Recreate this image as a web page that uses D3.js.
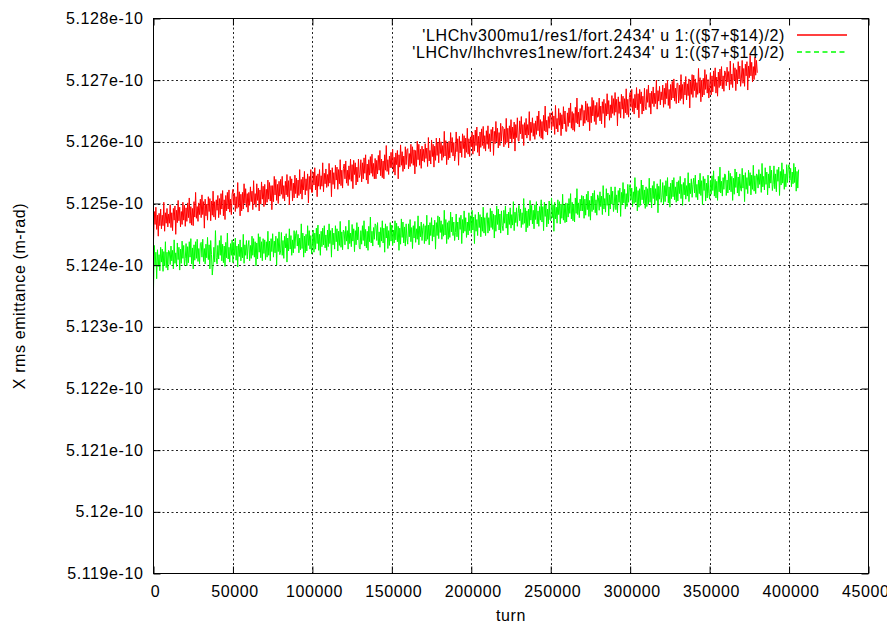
<!DOCTYPE html>
<html>
<head>
<meta charset="utf-8">
<script src="https://cdn.jsdelivr.net/npm/d3@7"></script>
<style>
  html, body { margin: 0; padding: 0; background: #fff; }
  svg { display: block; }
  text { font-family: "Liberation Sans", Arial, Helvetica, sans-serif; font-size: 16px; letter-spacing: 0.6px; fill: #000; }
</style>
</head>
<body>
<svg id="chart" width="887" height="623"></svg>
<script>
// ---- DATA ----
// X rms emittance, stored as (value - 5.12e-10) in units of 1e-15 m-rad
// (e.g. 470 -> 5.12470e-10 m-rad), sampled every 500 turns from turn 0.
const turnStep = 500;
const emitBase = 512000; // 5.12e-10 m-rad in units of 1e-15

const seriesNames = [
  "'LHChv300mu1/res1/fort.2434' u 1:(($7+$14)/2)",
  "'LHChv/lhchvres1new/fort.2434' u 1:(($7+$14)/2)"
];
const seriesColors = ["#ff0000", "#00ff00"];

const redEmit = [
440,487,466,494,458,481,447,484,464,491, 459,481,464,502,455,485,468,492,462,483,
468,498,461,485,456,492,473,496,450,489, 469,505,472,494,462,487,466,502,473,497,
463,493,471,501,477,509,468,495,465,492, 464,503,478,518,476,495,471,501,482,507,
477,514,482,503,460,507,480,499,473,511, 487,508,472,504,481,520,478,503,474,506,
489,513,477,508,482,516,491,521,480,506, 474,513,488,518,491,522,486,507,482,515,
523,498,517,487,511,492,534,494,519,480, 515,488,518,491,532,500,524,494,516,486,
518,497,527,503,520,490,537,499,516,494, 532,505,525,488,522,499,535,507,528,495,
531,498,523,502,538,507,534,504,529,490, 529,503,544,514,539,505,531,500,536,512,
539,515,544,508,529,504,536,514,547,511, 537,498,544,521,540,504,533,509,546,516,
541,509,538,513,555,516,539,507,543,522, 552,514,540,521,548,501,544,523,555,518,
518,551,530,558,522,545,511,548,528,555, 523,545,528,566,519,549,532,556,526,547,
528,565,533,554,511,558,531,550,524,562, 538,559,523,555,532,571,529,554,525,557,
564,540,569,533,554,529,561,539,572,536, 563,524,570,547,566,530,559,535,572,542,
547,571,535,566,540,574,549,579,538,564, 532,571,546,576,549,580,544,565,540,573,
540,570,548,578,554,586,545,572,542,569, 540,579,554,594,552,571,547,577,558,583,
558,588,551,575,546,582,563,586,540,579, 559,595,562,584,552,577,556,592,563,587,
589,556,581,560,596,565,592,562,587,548, 586,560,601,571,596,562,588,557,593,569,
588,567,597,573,590,560,607,569,586,564, 603,576,596,559,593,570,606,578,599,566,
606,581,600,570,594,575,617,577,602,563, 598,571,601,574,615,583,607,577,599,569,
579,616,584,605,562,609,582,601,575,613, 589,610,574,606,583,622,580,605,576,608,
592,616,580,611,585,619,594,624,583,609, 577,616,591,621,594,625,589,610,585,618,
596,626,589,613,584,620,601,624,578,617, 597,633,600,622,590,615,594,630,601,625,
624,592,621,596,638,599,622,590,626,605, 636,598,624,605,632,585,628,607,639,602,
601,634,613,641,605,628,594,631,611,638, 606,628,611,649,602,632,615,639,609,630,
604,634,612,642,618,650,609,636,606,633, 604,643,618,658,616,635,611,641,622,647,
640,619,649,625,642,612,659,621,638,616, 654,627,647,610,644,621,657,629,650,617,
617,647,625,655,631,663,622,649,619,646, 617,656,631,671,629,648,624,654,635,660,
659,626,651,630,666,635,662,632,657,618, 657,631,672,642,667,633,659,628,664,640,
641,671,634,658,629,665,646,669,623,662, 642,678,645,667,635,660,639,675,646,670,
643,680,648,669,626,673,646,665,639,677, 653,674,638,670,647,686,644,669,640,672,
680,656,685,649,670,645,677,655,688,652, 678,639,685,662,681,645,674,650,687,657,
652,685,664,692,656,679,645,682,662,689, 657,679,662,700,653,683,666,690,660,681,
668,692,656,687,661,695,670,700,659,685, 654,693,668,698,671,702,666,687,662,695,
695,663,692,667,709,670,693,661,697,676, 706,668,694,675,702,655,698,677,709,672,
708,683,702,672,696,677,719,679,704,665, 700,673,703,676,717,685,709,679,701,671,
688,712,676,707,681,715,690,720,679,705, 674,713,688,718,691,722,686,707,682,715,
712,691,721,697,714,684,731,693,710,688, 727,700,720,683,717,694,730,702,723,690,
702,732,695,719,690,726,707,730,684,723, 704,740,707,729,697,722,701,737,708,732,
712
];

const greenEmit = [
362,432,400,421,378,425,398,417,391,429, 405,426,390,422,399,438,396,421,392,424,
422,401,431,407,424,394,441,403,420,398, 436,409,429,392,426,403,439,411,432,399,
411,435,399,430,404,438,413,443,402,428, 394,433,408,438,411,442,406,427,402,435,
437,413,442,406,427,402,434,412,445,409, 433,394,440,417,384,400,429,405,456,412,
402,432,410,440,416,448,407,434,404,431, 398,437,412,452,410,429,405,435,416,441,
404,437,416,444,408,431,397,434,414,441, 407,429,412,450,403,433,416,440,410,431,
440,407,432,411,447,416,443,413,438,399, 436,410,451,421,446,412,438,407,443,419,
441,409,438,413,455,416,439,407,443,422, 451,413,439,420,447,400,443,422,454,417,
423,453,416,440,411,447,428,451,405,444, 423,459,426,448,416,441,420,456,427,451,
456,431,450,420,444,425,467,427,452,413, 447,420,450,423,464,432,456,426,448,418,
433,457,421,452,426,460,435,465,424,450, 416,455,430,460,433,464,428,449,424,457,
430,467,435,456,413,460,433,452,426,464, 438,459,423,455,432,471,429,454,425,457,
454,433,463,439,456,426,473,435,452,430, 466,439,459,422,456,433,469,441,462,429,
426,456,434,464,440,472,431,458,428,455, 424,463,438,478,436,455,431,461,442,467,
464,440,469,433,454,429,461,439,472,436, 460,421,467,444,463,427,456,432,469,439,
465,432,457,436,472,441,468,438,463,424, 460,434,475,445,470,436,462,431,467,443,
434,467,446,474,438,461,427,464,444,471, 437,459,442,480,433,463,446,470,440,461,
467,435,464,439,481,442,465,433,469,448, 477,439,465,446,473,426,469,448,480,443,
478,453,472,442,466,447,489,449,474,435, 469,442,472,445,486,454,478,448,470,440,
453,483,446,470,441,477,458,481,435,474, 452,488,455,477,445,470,449,485,456,480,
452,489,457,478,435,482,455,474,448,486, 461,482,446,478,455,494,452,477,448,480,
485,452,477,456,492,461,488,458,483,444, 481,455,496,466,491,457,483,452,488,464,
456,489,468,496,460,483,449,486,466,493, 460,482,465,503,456,486,469,493,463,484,
497,472,491,461,485,466,508,468,493,454, 488,461,491,464,505,473,497,467,489,459,
498,474,503,467,488,463,495,473,506,470, 495,456,502,479,498,462,491,467,504,474,
472,509,477,498,455,502,475,494,468,506, 482,503,467,499,476,515,473,498,469,501,
470,500,478,508,484,516,475,502,472,499, 470,509,484,524,482,501,477,507,488,513,
488,512,476,507,481,515,490,520,479,505, 473,512,487,517,490,521,485,506,481,514,
510,489,519,495,512,482,529,491,508,486, 524,497,517,480,514,491,527,499,520,487,
497,527,490,514,485,521,502,525,479,518, 498,534,501,523,491,516,495,531,502,526,
531,506,525,495,519,500,542,502,527,488, 521,494,524,497,538,506,530,500,522,492,
527,495,524,499,541,502,525,493,529,508, 536,498,524,505,532,485,528,507,539,502,
510,534,498,529,503,537,512,542,501,527, 494,533,508,538,511,542,506,527,502,535,
504,537,516,544,508,531,497,534,514,541, 507,529,512,550,503,533,516,540,510,531,
541,517,546,510,531,506,538,516,549,513, 537,498,544,521,540,504,533,509,546,516,
507,537,515,545,521,553,512,539,509,536, 505,544,519,559,517,536,512,542,523,548,
546,513,538,517,553,522,549,519,544,505, 541,515,556,526,551,517,543,512,548,524,
520,557,525,546,503,550,523,542,516,554, 529,550,514,546,523,562,520,545,516,548,
546,525,555,531,548,518,565,527,544,522, 558,531,551,514,548,525,561,533,554,521,
531,561,524,548,519,555,536,559,513,552, 530,566,533,555,523,548,527,563,534,558,
563,538,557,527,551,532,565,534,559,520,552,525,555
];

const xTicks = [0, 50000, 100000, 150000, 200000, 250000, 300000, 350000, 400000, 450000];
const xTickLabels = ["0", "50000", "100000", "150000", "200000", "250000", "300000", "350000", "400000", "450000"];
const yTicks = [-100, 0, 100, 200, 300, 400, 500, 600, 700, 800];
const yTickLabels = ["5.119e-10", "5.12e-10", "5.121e-10", "5.122e-10", "5.123e-10", "5.124e-10", "5.125e-10", "5.126e-10", "5.127e-10", "5.128e-10"];

const xLabel = "turn";
const yLabel = "X rms emittance (m-rad)";

// ---- LAYOUT ----
const svg = d3.select("#chart");
const plot = { left: 153.5, right: 868.5, top: 18.5, bottom: 573.5 };

const x = d3.scaleLinear().domain([0, 450000]).range([plot.left, plot.right]);
const y = d3.scaleLinear().domain([emitBase - 100, emitBase + 800]).range([plot.bottom, plot.top]);

// Grid
const grid = svg.append("g").attr("stroke", "#222").attr("stroke-width", 1).attr("stroke-dasharray", "2,2.5");
grid.selectAll("line.gx").data(xTicks.slice(1, -1)).join("line")
  .attr("x1", d => Math.round(x(d)) + 0.5).attr("x2", d => Math.round(x(d)) + 0.5)
  .attr("y1", plot.top).attr("y2", plot.bottom);
grid.selectAll("line.gy").data(yTicks.slice(1, -1)).join("line")
  .attr("y1", d => Math.round(y(emitBase + d)) + 0.5).attr("y2", d => Math.round(y(emitBase + d)) + 0.5)
  .attr("x1", plot.left).attr("x2", plot.right);

// Key area (grid not drawn behind the key)
svg.append("rect").attr("x", 416).attr("y", 26).attr("width", plot.right - 417).attr("height", 42).attr("fill", "#fff");

// Data
const line = d3.line().x(d => x(d[0])).y(d => y(d[1]));
const toPts = arr => arr.map((v, i) => [i * turnStep, emitBase + v]);
[redEmit, greenEmit].forEach((arr, i) => {
  svg.append("path")
    .datum(toPts(arr))
    .attr("fill", "none")
    .attr("stroke", seriesColors[i])
    .attr("stroke-width", 1)
    .attr("d", line);
});

// Axes: ticks inside (mirrored), border
const tickLen = 7;
const axes = svg.append("g");
const xAxisB = d3.axisBottom(x).tickValues(xTicks).tickFormat((d, i) => xTickLabels[i]).tickSizeInner(-tickLen).tickSizeOuter(0).tickPadding(12);
const xAxisT = d3.axisTop(x).tickValues(xTicks).tickFormat("").tickSizeInner(-tickLen).tickSizeOuter(0);
const yAxisL = d3.axisLeft(y).tickValues(yTicks.map(d => emitBase + d)).tickFormat((d, i) => yTickLabels[i]).tickSizeInner(-tickLen).tickSizeOuter(0).tickPadding(10);
const yAxisR = d3.axisRight(y).tickValues(yTicks.map(d => emitBase + d)).tickFormat("").tickSizeInner(-tickLen).tickSizeOuter(0);

function styleAxis(g) {
  g.select(".domain").remove();
  g.selectAll(".tick line").attr("stroke", "#000");
  g.selectAll(".tick text").attr("font-family", null).attr("font-size", null).attr("fill", "#000");
}
axes.append("g").attr("transform", `translate(0,${plot.bottom})`).call(xAxisB).call(styleAxis)
  .selectAll(".tick text").attr("dx", "1.5");
axes.append("g").attr("transform", `translate(0,${plot.top})`).call(xAxisT).call(styleAxis);
axes.append("g").attr("transform", `translate(${plot.left},0)`).call(yAxisL).call(styleAxis);
axes.append("g").attr("transform", `translate(${plot.right},0)`).call(yAxisR).call(styleAxis);

svg.append("rect")
  .attr("x", plot.left).attr("y", plot.top)
  .attr("width", plot.right - plot.left).attr("height", plot.bottom - plot.top)
  .attr("fill", "none").attr("stroke", "#000").attr("stroke-width", 1);

// Axis labels
svg.append("text").attr("x", (plot.left + plot.right) / 2).attr("y", 621)
  .attr("text-anchor", "middle").text(xLabel);
svg.append("text").attr("transform", `translate(25,${(plot.top + plot.bottom) / 2}) rotate(-90)`)
  .attr("text-anchor", "middle").text(yLabel);

// Key
const key = svg.append("g");
seriesNames.forEach((name, i) => {
  const cy = 35 + i * 17;
  key.append("text").attr("x", 785).attr("y", cy).attr("dy", "0.35em")
    .attr("text-anchor", "end").text(name);
  const ln = key.append("line").attr("x1", 797).attr("x2", 847).attr("y1", cy).attr("y2", cy)
    .style("stroke", seriesColors[i]).style("stroke-width", 1.5);
  if (i === 1) ln.style("stroke-dasharray", "5,3.5");
});
</script>
</body>
</html>
